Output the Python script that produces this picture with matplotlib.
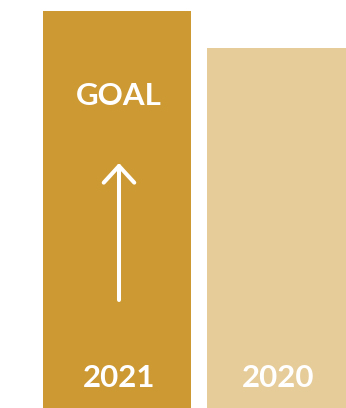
import matplotlib
matplotlib.use('Agg')
import matplotlib.pyplot as plt

years = ['2021', '2020']
values = [397, 360]          # bar heights, read in pixels from the picture
colors = ['#CC9933', '#E6CC99']
centers = [117, 276.5]
widths = [148, 139]

W, H = 346, 408
fig = plt.figure(figsize=(W / 100, H / 100), dpi=100)
ax = fig.add_axes([0, 0, 1, 1])
ax.set_xlim(0, W)
ax.set_ylim(0, H)
ax.axis('off')

ax.bar(centers, values, width=widths, color=colors, align='center')

font = ['Lato', 'DejaVu Sans']
for x, y in zip(centers, years):
    ax.text(x + 2, 21, y, color='white', fontsize=22.5, fontweight='bold',
            family=font, ha='center', va='baseline')

ax.text(118.5, 303, 'GOAL', color='white', fontsize=22.5, fontweight='bold',
        family=font, ha='center', va='baseline')

ax.annotate('', xy=(119, H - 163), xytext=(119, H - 300),
            arrowprops=dict(arrowstyle='->,head_length=0.6,head_width=0.55',
                            color='white', lw=2.9, mutation_scale=20,
                            shrinkA=0, shrinkB=0))

fig.savefig('out.png', dpi=100)
